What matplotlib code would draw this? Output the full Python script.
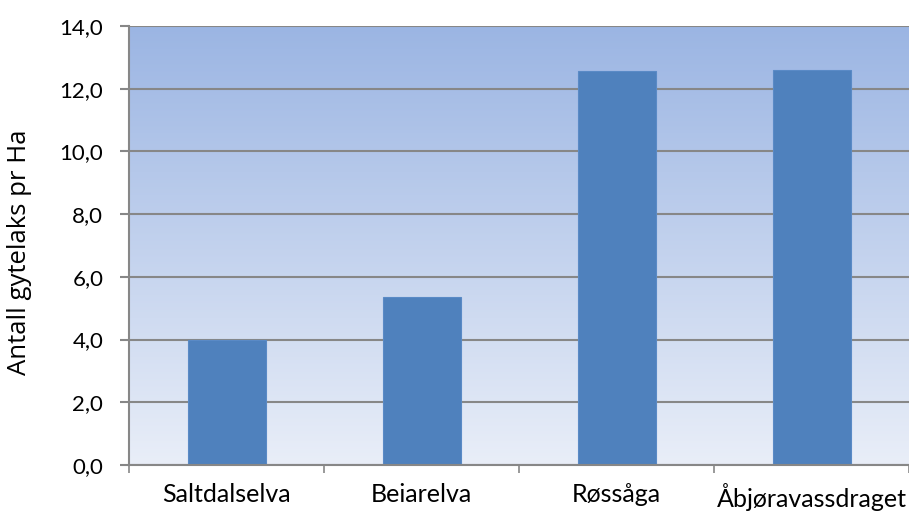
import numpy as np
import matplotlib
matplotlib.use("Agg")
import matplotlib.pyplot as plt
from matplotlib.colors import LinearSegmentedColormap

categories = ["Saltdalselva", "Beiarelva", "Røssåga", "Åbjøravassdraget"]
values = [4.0, 5.36, 12.58, 12.61]
yticks = [0, 2, 4, 6, 8, 10, 12, 14]
ylabel = "Antall gytelaks pr Ha"

plt.rcParams["font.family"] = ["Lato", "DejaVu Sans"]

W, H = 909, 511
fig = plt.figure(figsize=(W / 100, H / 100), dpi=100)
ax = fig.add_axes([129 / W, 46 / H, 780 / W, 439 / H])

# vertical gradient background
cmap = LinearSegmentedColormap.from_list("bg", ["#e9eef8", "#9bb5e3"])
grad = np.linspace(0, 1, 256).reshape(-1, 1)
ax.imshow(grad, aspect="auto", cmap=cmap, origin="lower",
          extent=[0, 1, 0, 1], transform=ax.transAxes, zorder=0)

x = np.arange(len(categories))
ax.bar(x, values, width=0.4, color="#4f81bd", edgecolor="#5a8ac6",
       linewidth=0.8, zorder=3)

ax.set_xlim(-0.5, len(categories) - 0.5)
ax.set_ylim(0, 14)
ax.set_yticks(yticks)
ax.set_yticklabels([f"{v:.1f}".replace(".", ",") for v in yticks], fontsize=16)
ax.yaxis.grid(True, color="#878787", linewidth=1.5, zorder=1)
ax.set_axisbelow(True)

ax.set_xticks(x)
ax.set_xticklabels(categories, fontsize=18)
ax.set_xticks(np.arange(-0.5, len(categories)), minor=True)
ax.tick_params(axis="x", which="major", length=0, pad=13)
ax.tick_params(axis="x", which="minor", length=6, width=1.2, color="#878787")
ax.tick_params(axis="y", length=6.5, width=1.5, color="#878787", pad=12)

for side in ["top", "right"]:
    ax.spines[side].set_visible(False)
for side in ["left", "bottom"]:
    ax.spines[side].set_color("#878787")
    ax.spines[side].set_linewidth(1.5)
ax.spines["bottom"].set_zorder(4)

ax.set_ylabel(ylabel, fontsize=18.5, fontfamily="Open Sans")
ax.yaxis.set_label_coords(-97 / 780, 0.485)

fig.savefig("out.png", dpi=100)
